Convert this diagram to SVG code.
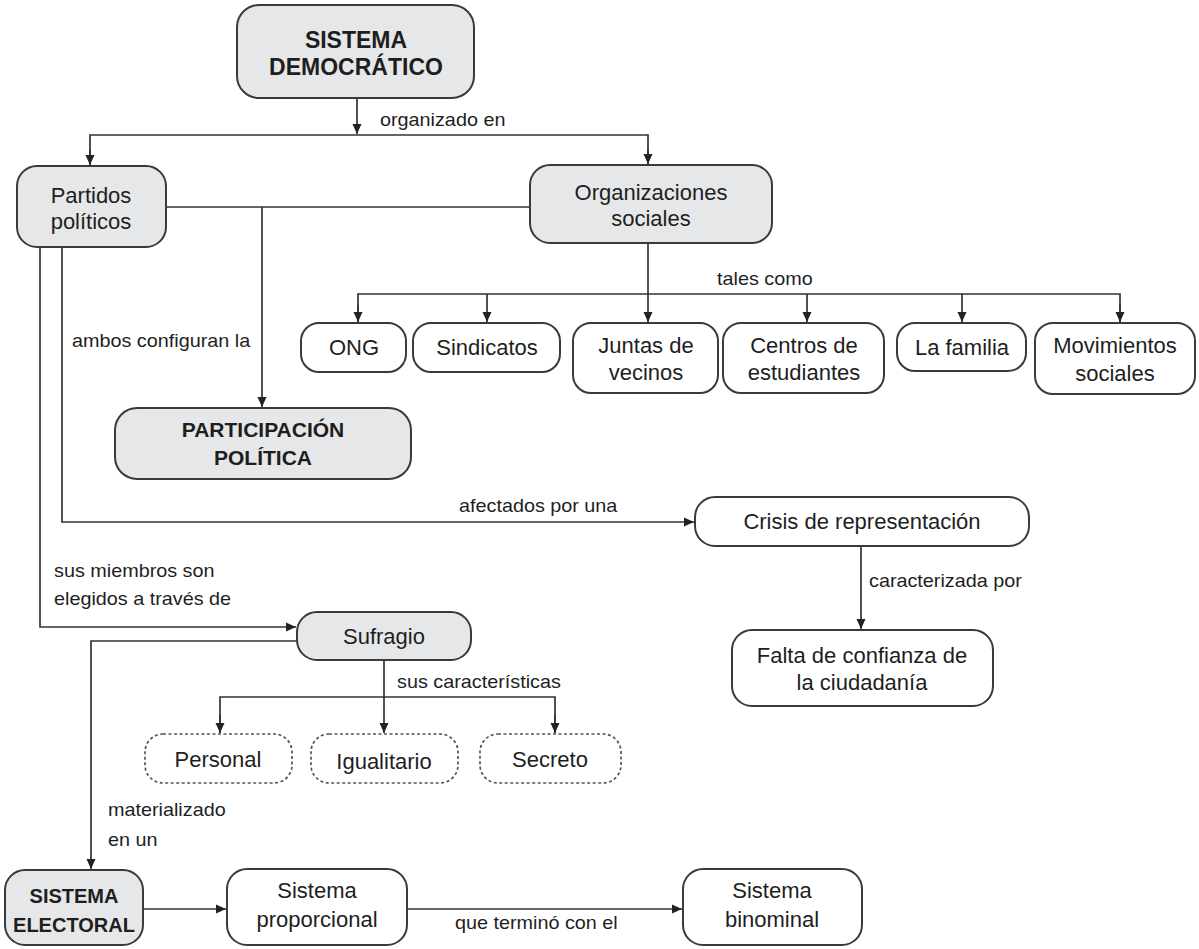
<svg xmlns="http://www.w3.org/2000/svg" width="1199" height="949" viewBox="0 0 1199 949">
<defs>
<marker id="arr" viewBox="0 0 10 10" refX="10" refY="5" markerWidth="10" markerHeight="10" markerUnits="userSpaceOnUse" orient="auto">
<path d="M0,0.5 L10,5 L0,9.5 Z" fill="#222"/>
</marker>
<style>
.n{stroke:#3a3a3a;stroke-width:2;fill:#fff}
.g{fill:#e6e7e8}
.d{stroke-dasharray:3 2.5;stroke-width:1.7;stroke:#555}
.t{font-family:"Liberation Sans",Arial,sans-serif;font-size:22px;fill:#1e1e1e;text-anchor:middle}
.b{font-weight:bold;font-size:21px}
.b1{font-size:23px}
.b2{font-size:20px}
.l{font-family:"Liberation Sans",Arial,sans-serif;font-size:18px;fill:#1e1e1e;transform-box:fill-box;transform-origin:left center;transform:scaleX(1.1)}
.c{fill:none;stroke:#333;stroke-width:1.7}
</style>
</defs>
<rect width="1199" height="949" fill="#fff"/>
<g id="connectors">
<path class="c" d="M357,98 V134" marker-end="url(#arr)"/>
<path class="c" d="M90,165 V135 H648 V165"/>
<path class="c" d="M90,150 V165" marker-end="url(#arr)"/>
<path class="c" d="M648,150 V164" marker-end="url(#arr)"/>
<path class="c" d="M166,207 H530"/>
<path class="c" d="M262,207 V407" marker-end="url(#arr)"/>
<path class="c" d="M648,243 V322" marker-end="url(#arr)"/>
<path class="c" d="M358,322 V294 H1120 V322"/>
<path class="c" d="M358,305 V322" marker-end="url(#arr)"/>
<path class="c" d="M487,294 V322" marker-end="url(#arr)"/>
<path class="c" d="M807,294 V322" marker-end="url(#arr)"/>
<path class="c" d="M962,294 V322" marker-end="url(#arr)"/>
<path class="c" d="M1120,305 V322" marker-end="url(#arr)"/>
<path class="c" d="M62,247 V522 H694" marker-end="url(#arr)"/>
<path class="c" d="M861,546 V629" marker-end="url(#arr)"/>
<path class="c" d="M40,247 V627 H296" marker-end="url(#arr)"/>
<path class="c" d="M297,641 H91 V869" marker-end="url(#arr)"/>
<path class="c" d="M384,660 V733" marker-end="url(#arr)"/>
<path class="c" d="M220,733 V697 H555 V733"/>
<path class="c" d="M220,715 V733" marker-end="url(#arr)"/>
<path class="c" d="M555,715 V733" marker-end="url(#arr)"/>
<path class="c" d="M143,909 H226" marker-end="url(#arr)"/>
<path class="c" d="M407,909 H682" marker-end="url(#arr)"/>
<text class="l" x="380" y="126">organizado en</text>
<text class="l" x="72" y="347">ambos configuran la</text>
<text class="l" x="717" y="285">tales como</text>
<text class="l" x="459" y="512">afectados por una</text>
<text class="l" x="869" y="587">caracterizada por</text>
<text class="l" x="54" y="577">sus miembros son</text>
<text class="l" x="54" y="605">elegidos a través de</text>
<text class="l" x="397" y="688">sus características</text>
<text class="l" x="108" y="816">materializado</text>
<text class="l" x="108" y="846">en un</text>
<text class="l" x="455" y="929">que terminó con el</text>
</g>
<g id="sistema-democratico">
<rect class="n g" x="237" y="5" width="237" height="93" rx="22"/>
<text class="t b b1" x="356" y="48">SISTEMA</text>
<text class="t b b1" x="356" y="75">DEMOCRÁTICO</text>
</g>
<g id="partidos">
<rect class="n g" x="17" y="166" width="149" height="81" rx="20"/>
<text class="t" x="91" y="203">Partidos</text>
<text class="t" x="91" y="229">políticos</text>
</g>
<g id="organizaciones">
<rect class="n g" x="530" y="165" width="242" height="78" rx="20"/>
<text class="t" x="651" y="200">Organizaciones</text>
<text class="t" x="651" y="226">sociales</text>
</g>
<g id="participacion">
<rect class="n g" x="115" y="408" width="296" height="71" rx="22"/>
<text class="t b" x="263" y="437">PARTICIPACIÓN</text>
<text class="t b" x="263" y="465">POLÍTICA</text>
</g>
<g id="ong">
<rect class="n" x="301" y="323" width="105" height="49" rx="18"/>
<text class="t" x="354" y="355">ONG</text>
</g>
<g id="sindicatos">
<rect class="n" x="413" y="323" width="147" height="49" rx="18"/>
<text class="t" x="487" y="355">Sindicatos</text>
</g>
<g id="juntas">
<rect class="n" x="573" y="323" width="145" height="70" rx="18"/>
<text class="t" x="646" y="353">Juntas de</text>
<text class="t" x="646" y="380">vecinos</text>
</g>
<g id="centros">
<rect class="n" x="723" y="323" width="161" height="70" rx="18"/>
<text class="t" x="804" y="353">Centros de</text>
<text class="t" x="804" y="380">estudiantes</text>
</g>
<g id="familia">
<rect class="n" x="897" y="323" width="129" height="48" rx="18"/>
<text class="t" x="962" y="355">La familia</text>
</g>
<g id="movimientos">
<rect class="n" x="1035" y="323" width="160" height="71" rx="18"/>
<text class="t" x="1115" y="353">Movimientos</text>
<text class="t" x="1115" y="381">sociales</text>
</g>
<g id="crisis">
<rect class="n" x="695" y="497" width="334" height="49" rx="20"/>
<text class="t" x="862" y="529">Crisis de representación</text>
</g>
<g id="falta">
<rect class="n" x="732" y="630" width="261" height="76" rx="20"/>
<text class="t" x="862" y="663">Falta de confianza de</text>
<text class="t" x="862" y="690">la ciudadanía</text>
</g>
<g id="sufragio">
<rect class="n g" x="297" y="612" width="174" height="48" rx="20"/>
<text class="t" x="384" y="644">Sufragio</text>
</g>
<g id="personal">
<rect class="n d" x="145" y="734" width="147" height="49" rx="18"/>
<text class="t" x="218" y="767">Personal</text>
</g>
<g id="igualitario">
<rect class="n d" x="311" y="734" width="147" height="49" rx="18"/>
<text class="t" x="384" y="769">Igualitario</text>
</g>
<g id="secreto">
<rect class="n d" x="480" y="734" width="141" height="49" rx="18"/>
<text class="t" x="550" y="767">Secreto</text>
</g>
<g id="sistema-electoral">
<rect class="n g" x="5" y="870" width="138" height="75" rx="20"/>
<text class="t b b2" x="74" y="903">SISTEMA</text>
<text class="t b b2" x="74" y="932">ELECTORAL</text>
</g>
<g id="proporcional">
<rect class="n" x="227" y="869" width="180" height="76" rx="20"/>
<text class="t" x="317" y="898">Sistema</text>
<text class="t" x="317" y="927">proporcional</text>
</g>
<g id="binominal">
<rect class="n" x="683" y="869" width="179" height="76" rx="20"/>
<text class="t" x="772" y="898">Sistema</text>
<text class="t" x="772" y="927">binominal</text>
</g>
</svg>
